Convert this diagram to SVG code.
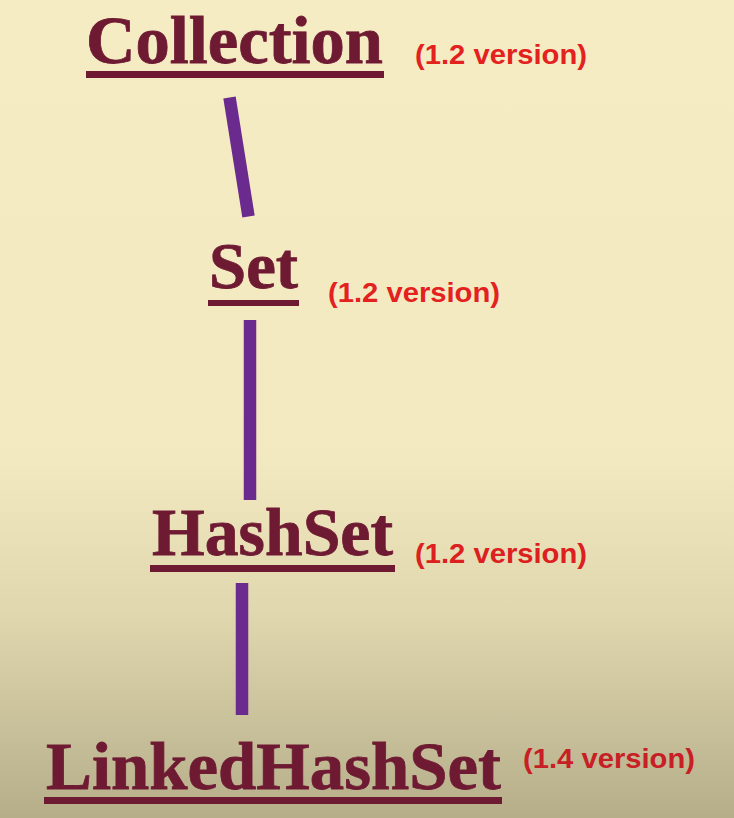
<svg xmlns="http://www.w3.org/2000/svg" width="734" height="818" viewBox="0 0 734 818">
<defs>
<linearGradient id="bg" x1="0" y1="0" x2="0" y2="1">
<stop offset="0" stop-color="#F6ECC4"/>
<stop offset="0.56" stop-color="#F3E9C0"/>
<stop offset="0.75" stop-color="#E0D7AF"/>
<stop offset="1" stop-color="#B5AE89"/>
</linearGradient>
<style>
.name{font-family:"Liberation Serif","Times New Roman",serif;font-weight:bold;fill:#6E1A32;stroke:#6E1A32;stroke-width:0.8}
.ver{font-family:"Liberation Sans",Arial,sans-serif;font-weight:bold;font-size:28px;fill:#E3211F}
.ul{fill:#6E1A32}
.conn{stroke:#6B2A8E;stroke-width:12.5;stroke-linecap:butt;fill:none}
</style>
</defs>
<rect x="0" y="0" width="734" height="818" fill="url(#bg)"/>
<g id="connectors">
<line class="conn" x1="229.5" y1="97.5" x2="248.5" y2="216.5"/>
<line class="conn" x1="250" y1="320" x2="250" y2="500"/>
<line class="conn" x1="242" y1="583" x2="242" y2="715"/>
</g>
<g id="collection">
<text class="name" x="86" y="63" font-size="68" textLength="297" lengthAdjust="spacingAndGlyphs">Collection</text>
<rect class="ul" x="86" y="71" width="298" height="7"/>
<text class="ver" x="415" y="64" textLength="172" lengthAdjust="spacingAndGlyphs">(1.2 version)</text>
</g>
<g id="set">
<text class="name" x="209" y="288" font-size="66" textLength="89" lengthAdjust="spacingAndGlyphs">Set</text>
<rect class="ul" x="208" y="300" width="91" height="6"/>
<text class="ver" x="328" y="302" textLength="172" lengthAdjust="spacingAndGlyphs">(1.2 version)</text>
</g>
<g id="hashset">
<text class="name" x="152" y="555" font-size="68" textLength="241" lengthAdjust="spacingAndGlyphs">HashSet</text>
<rect class="ul" x="150" y="565" width="245" height="7"/>
<text class="ver" x="415" y="563" textLength="172" lengthAdjust="spacingAndGlyphs" style="fill:#DC2020">(1.2 version)</text>
</g>
<g id="linkedhashset">
<text class="name" x="46" y="789" font-size="68" textLength="455" lengthAdjust="spacingAndGlyphs">LinkedHashSet</text>
<rect class="ul" x="44" y="797" width="458" height="7"/>
<text class="ver" x="523" y="768" textLength="172" lengthAdjust="spacingAndGlyphs" style="fill:#C81E26">(1.4 version)</text>
</g>
</svg>
